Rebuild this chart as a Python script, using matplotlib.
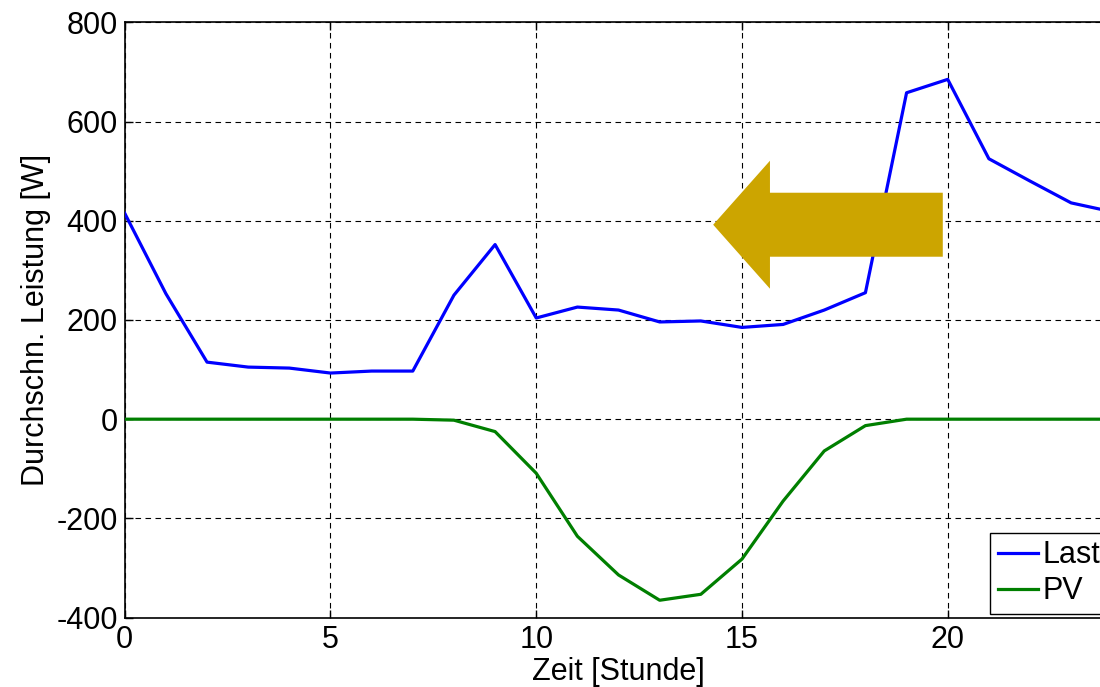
import numpy as np
import matplotlib
matplotlib.use("Agg")
import matplotlib.pyplot as plt

# Stundenwerte (0..24)
stunden = list(range(25))
last = [415, 253, 115, 105, 103, 93, 97, 97, 250, 352, 204, 226, 220, 196, 198,
        185, 191, 220, 255, 658, 685, 525, 480, 436, 418]
pv = [0, 0, 0, 0, 0, 0, 0, 0, -2, -25, -109, -236, -314, -365, -353,
      -282, -165, -64, -13, 0, 0, 0, 0, 0, 0]

# Pfeil (Verschiebung der Last)
pfeil_start = 19.88
pfeil_ende = 14.3
pfeil_y = 392

plt.rcParams['font.family'] = ['Liberation Sans', 'DejaVu Sans']
plt.rcParams['font.size'] = 22
plt.rcParams['axes.unicode_minus'] = False

fig = plt.figure(figsize=(11, 6.87), dpi=100)
ax = fig.add_axes([0.1134, 0.101, 0.8978, 0.8665])

ax.plot(stunden, last, color='#0000ff', lw=2.3, label='Last', zorder=3)
ax.plot(stunden, pv, color='#007f00', lw=2.3, label='PV', zorder=3)

ax.arrow(pfeil_start, pfeil_y, pfeil_ende - pfeil_start, 0,
         width=129, head_width=258, head_length=1.38,
         length_includes_head=True, color='#cca500', lw=0, zorder=4)

ax.set_xlim(0, 24)
ax.set_ylim(-400, 800)
ax.set_xticks([0, 5, 10, 15, 20])
ax.set_yticks(range(-400, 801, 200))

ax.grid(True, color='black', linestyle=(0, (5, 4)), linewidth=0.8)
ax.tick_params(direction='in', top=True, right=True, length=6, width=1, pad=5)
for s in ax.spines.values():
    s.set_linewidth(1.2)

ax.set_xlabel("Zeit [Stunde]", labelpad=2)
ax.set_ylabel("Durchschn. Leistung [W]", labelpad=4)

leg = ax.legend(loc='lower left', bbox_to_anchor=(0.8765, 0.006),
                fancybox=False, framealpha=1, edgecolor='black',
                handlelength=1.3, handletextpad=0.16, borderpad=0.25,
                labelspacing=0.2, borderaxespad=0)
leg.get_frame().set_linewidth(1.0)

fig.savefig("out.png", dpi=100)
